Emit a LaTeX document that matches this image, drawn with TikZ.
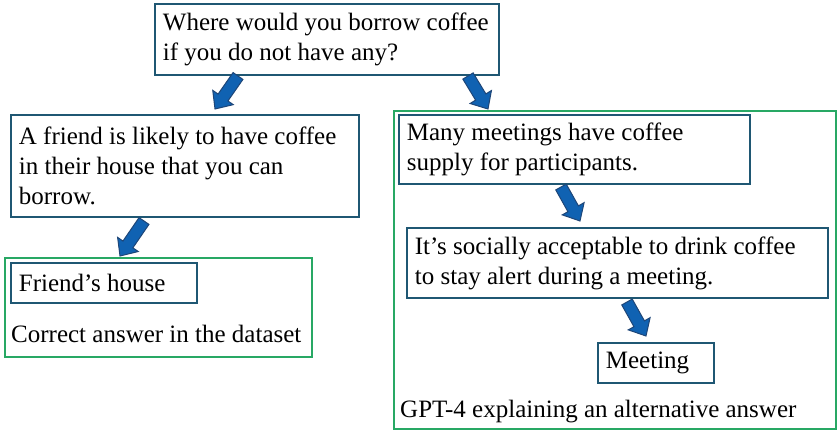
\documentclass[tikz,border=0pt]{standalone}
\usepackage{fontspec}
\setmainfont{Liberation Serif}
\usetikzlibrary{calc}
\definecolor{boxblue}{RGB}{31,87,115}
\definecolor{frgreen}{RGB}{40,168,100}
\definecolor{arrfill}{RGB}{16,98,178}
\definecolor{arrline}{RGB}{30,70,120}
\tikzset{
  txtbox/.style={draw=boxblue, line width=1.8pt, anchor=north west, inner xsep=8pt, inner ysep=0pt, align=flush left, font=\fontsize{25}{30}\selectfont},
  frame/.style={draw=frgreen, line width=1.6pt, anchor=north west, inner sep=0pt},
  lbl/.style={anchor=base west, inner sep=0pt, font=\fontsize{25}{30}\selectfont},
  blockarr/.style={fill=arrfill, draw=arrline, line width=1pt, line join=miter}
}
\newcommand\blockarrow[2]{%
  \coordinate (bac) at ($(#2)!14pt!(#1)$);
  \draw[blockarr] ($(#1)!6pt!90:(#2)$) -- ($(bac)!6pt!90:(#2)$) -- ($(bac)!12.5pt!90:(#2)$) -- (#2) -- ($(bac)!12.5pt!-90:(#2)$) -- ($(bac)!6pt!-90:(#2)$) -- ($(#1)!6pt!-90:(#2)$) -- cycle;
}
\begin{document}
\begin{tikzpicture}[x=1pt,y=-1pt]
\useasboundingbox (0,0) rectangle (837,430);
% group frames
\node[frame, minimum width=307pt, minimum height=99pt] (gleft) at (4,257) {};
\node[frame, minimum width=442pt, minimum height=318pt] (gright) at (393,110) {};
% boxes
\node[txtbox, text width=328pt, minimum height=71pt] (q) at (154,3) {Where would you borrow coffee\\if you do not have any?};
\node[txtbox, text width=332pt, minimum height=102pt] (f) at (10,114) {A friend is likely to have coffee\\in their house that you can\\borrow.};
\node[txtbox, text width=170pt, minimum height=40pt] (fh) at (10,262) {Friend’s house};
\node[txtbox, text width=335pt, minimum height=69pt] (m) at (398,114) {Many meetings have coffee\\supply for participants.};
\node[txtbox, text width=405pt, minimum height=70pt] (s) at (406,227) {It’s socially acceptable to drink coffee\\to stay alert during a meeting.};
\node[txtbox, text width=100pt, minimum height=40pt] (mt) at (597,342) {Meeting};
% captions
\node[lbl] (capl) at (11,342) {Correct answer in the dataset};
\node[lbl] (capr) at (400,417) {GPT-4 explaining an alternative answer};
% arrow ends
\coordinate (a1s) at (238,76);  \coordinate (a1e) at (215,109);
\coordinate (a2s) at (468,76);  \coordinate (a2e) at (488,109);
\coordinate (a3s) at (144,221); \coordinate (a3e) at (120,256);
\coordinate (a4s) at (561,187); \coordinate (a4e) at (580,221);
\coordinate (a5s) at (627,302); \coordinate (a5e) at (646,336);
\blockarrow{a1s}{a1e}
\blockarrow{a2s}{a2e}
\blockarrow{a3s}{a3e}
\blockarrow{a4s}{a4e}
\blockarrow{a5s}{a5e}
\end{tikzpicture}
\end{document}
